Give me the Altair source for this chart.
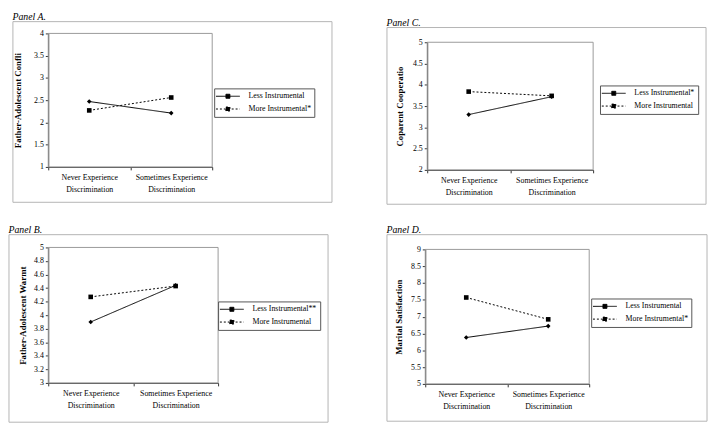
import altair as alt
import pandas as pd

categories = ["Never Experience Discrimination", "Sometimes Experience Discrimination"]

# Panel A
a_series = ["Less Instrumental", "More Instrumental*"]
a_less = [2.47, 2.21]
a_more = [2.27, 2.56]
a_ticks = [1, 1.5, 2, 2.5, 3, 3.5, 4]
a_title = "Father-Adolescent Confli"

# Panel B
b_series = ["Less Instrumental**", "More Instrumental"]
b_less = [3.90, 4.44]
b_more = [4.27, 4.43]
b_ticks = [3, 3.2, 3.4, 3.6, 3.8, 4, 4.2, 4.4, 4.6, 4.8, 5]
b_title = "Father-Adolescent Warmt"

# Panel C
c_series = ["Less Instrumental*", "More Instrumental"]
c_less = [3.30, 3.72]
c_more = [3.84, 3.74]
c_ticks = [2, 2.5, 3, 3.5, 4, 4.5, 5]
c_title = "Coparent Cooperatio"

# Panel D
d_series = ["Less Instrumental", "More Instrumental*"]
d_less = [6.38, 6.72]
d_more = [7.57, 6.92]
d_ticks = [5, 5.5, 6, 6.5, 7, 7.5, 8, 8.5, 9]
d_title = "Marital Satisfaction"

SERIF = "Liberation Serif"

# legend glyph: line with a small filled marker in the middle
LEGEND_PATH = "M-2.7,0H2.7M-0.45,-0.45H0.45V0.45H-0.45Z"


def panel(label, series, less, more, ticks, ytitle, w, h, top, box, leg, title_x):
    df = pd.DataFrame({
        "cat": categories * 2,
        "series": [series[0]] * 2 + [series[1]] * 2,
        "value": less + more,
    })
    x = alt.X(
        "cat:N",
        sort=categories,
        scale=alt.Scale(type="band", domain=categories, paddingInner=0, paddingOuter=0),
        axis=alt.Axis(
            title=None, labelAngle=0, tickBand="extent", tickSize=3,
            labelExpr="datum.label ? [replace(datum.label, ' Discrimination', ''), 'Discrimination'] : ''",
            labelLineHeight=12, labelPadding=4, labelFontSize=8,
        ),
    )
    y = alt.Y(
        "value:Q",
        scale=alt.Scale(domain=[ticks[0], ticks[-1]], nice=False, zero=False, range=[h + top, top]),
        axis=alt.Axis(
            values=ticks, format="~g", title=ytitle, grid=False, tickSize=3,
            labelPadding=2, labelFontSize=8, labelFlush=False, labelOverlap=False,
            titleX=title_x, titleY=top + h / 2, titleBaseline="middle", titleAlign="center",
        ),
    )
    one = pd.DataFrame({"k": [0]})
    outer = alt.Chart(one).mark_rect(fillOpacity=0, stroke="#b4b4b4", strokeWidth=1).encode(
        x=alt.value(box[0]), x2=alt.value(box[1]),
        y=alt.value(box[2] + top), y2=alt.value(box[3] + top),
    )
    plotframe = alt.Chart(one).mark_rect(fillOpacity=0, stroke="#999999", strokeWidth=1).encode(
        x=alt.value(0), x2=alt.value(w), y=alt.value(top), y2=alt.value(top + h),
    )
    legend = alt.Legend(
        title=None, orient="none", legendX=leg[0], legendY=leg[1] + top,
        strokeColor="#555555", padding=3, rowPadding=3,
        labelFont=SERIF, labelFontSize=8, labelColor="black",
        symbolType=LEGEND_PATH, symbolSize=81, symbolOffset=6, labelOffset=16,
        symbolStrokeColor="black", symbolFillColor="black", symbolStrokeWidth=1,
    )
    lines = alt.Chart(df).mark_line(color="black", strokeWidth=1).encode(
        x=x, y=y,
        strokeDash=alt.StrokeDash(
            "series:N", scale=alt.Scale(domain=series, range=[[1, 0], [2, 2]]), legend=legend
        ),
    )
    pts_less = alt.Chart(df).transform_filter(
        alt.datum.series == series[0]
    ).mark_point(filled=True, color="black", size=22, opacity=1, shape="diamond").encode(x=x, y=y)
    pts_more = alt.Chart(df).transform_filter(
        alt.datum.series == series[1]
    ).mark_point(filled=True, color="black", size=22, opacity=1, shape="square").encode(x=x, y=y)
    return alt.layer(outer, plotframe, lines, pts_less, pts_more).properties(
        width=w, height=h + top,
        title=alt.TitleParams(
            text=label, anchor="start", font=SERIF, fontStyle="italic", fontWeight="normal",
            fontSize=10, offset=-1, color="black",
        ),
    )


pa = panel("Panel A.", a_series, a_less, a_more, a_ticks, a_title, 167, 136, 0,
           (-36, 289, -12, 172), (169, 56), -31)
pc = panel("Panel C.", c_series, c_less, c_more, c_ticks, c_title, 169, 130, 9,
           (-41, 284, -15, 165), (176, 44), -28)
pb = panel("Panel B.", b_series, b_less, b_more, b_ticks, b_title, 173, 138, 0,
           (-40, 285, -13, 178), (173, 55), -26)
pd_ = panel("Panel D.", d_series, d_less, d_more, d_ticks, d_title, 167, 137, 5,
            (-39, 287, -15, 175), (169, 50), -27)

chart = alt.concat(
    pa, pc, pb, pd_, columns=2, align="none", bounds="full",
    spacing={"row": 20, "column": 54},
).resolve_scale(
    x="independent", y="independent", strokeDash="independent"
).properties(padding=0, background="white").configure_view(
    strokeWidth=0
).configure_axis(
    labelFont=SERIF, labelColor="black", domainColor="#333333", tickColor="#333333",
    titleFont=SERIF, titleFontWeight="bold", titleFontSize=9, titleColor="black", zindex=1,
)

chart.save("out.html", embed_options={"renderer": "svg", "actions": False})
